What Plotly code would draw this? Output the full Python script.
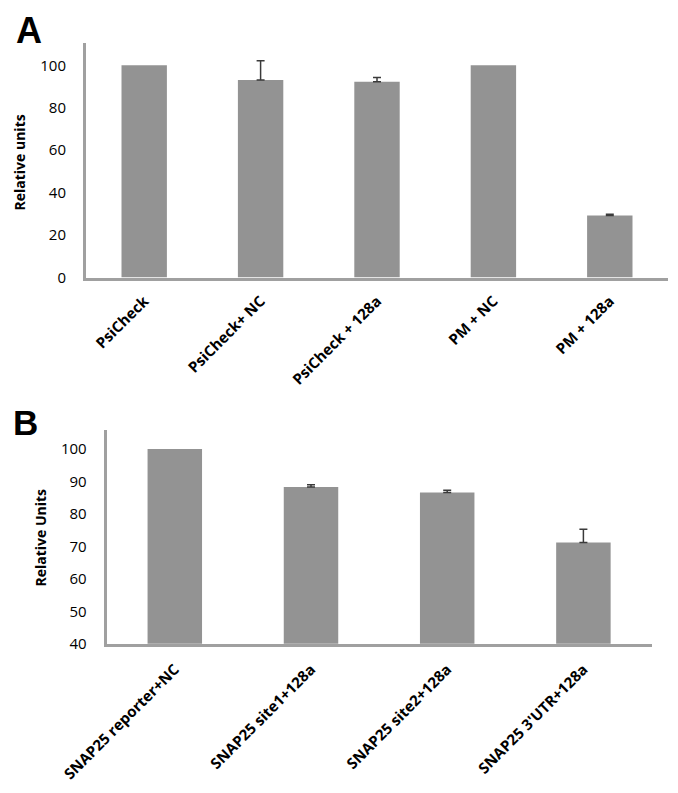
import plotly.graph_objects as go

W, H = 678, 793

# ---- data ----
cats_a = ["PsiCheck", "PsiCheck+ NC", "PsiCheck + 128a", "PM + NC", "PM + 128a"]
vals_a = [100, 93.1, 92.3, 100, 29.2]
err_a = [0, 9.0, 2.0, 0, 0.6]

cats_b = ["SNAP25 reporter+NC", "SNAP25 site1+128a", "SNAP25 site2+128a", "SNAP25 3'UTR+128a"]
vals_b = [100, 88.3, 86.6, 71.2]
err_b = [0, 0.7, 0.7, 4.1]

ticks_a = [0, 20, 40, 60, 80, 100]
ticks_b = [40, 50, 60, 70, 80, 90, 100]

BAR = "#939393"
LINE = "#a0a0a0"
ERR = "#3a3a3a"
FONT = "Open Sans"

def px_x(p):
    return p / W

def px_y(p):
    return 1 - p / H

fig = go.Figure()

def add_panel(cats, vals, errs, width, xa, ya):
    fig.add_trace(go.Bar(
        x=cats, y=vals, width=width, marker=dict(color=BAR, line=dict(width=0)),
        xaxis=xa, yaxis=ya, showlegend=False, hoverinfo="x+y",
    ))
    idx = [i for i, e in enumerate(errs) if e > 0]
    fig.add_trace(go.Scatter(
        x=[cats[i] for i in idx], y=[vals[i] for i in idx], mode="markers",
        marker=dict(size=1, opacity=0),
        error_y=dict(type="data", array=[errs[i] for i in idx], arrayminus=[0] * len(idx),
                     symmetric=False, color=ERR, thickness=1.5, width=4),
        xaxis=xa, yaxis=ya, showlegend=False, hoverinfo="skip",
    ))

add_panel(cats_a, vals_a, err_a, 0.39, "x", "y")
add_panel(cats_b, vals_b, err_b, 0.40, "x2", "y2")

# panel A geometry
a_x0, a_x1 = 86, 668
a_y0, a_ytop = 277.5, 42.7
a_ppu = (277.5 - 65.3) / 100
a_rmax = (a_y0 - a_ytop) / a_ppu

# panel B geometry
b_x0, b_x1 = 106.7, 651.5
b_y0, b_ytop = 643.8, 430
b_ppu = (643.8 - 449.0) / 60
b_rmax = 40 + (b_y0 - b_ytop) / b_ppu

xfont = dict(family=FONT, size=15, color="black", weight="bold")
yfont = dict(family=FONT, size=15, color="black")

common_x = dict(showline=True, linecolor=LINE, linewidth=3, showgrid=False, ticks="",
                tickangle=-45, tickfont=xfont, automargin=False, zeroline=False)
common_y = dict(showline=True, linecolor=LINE, linewidth=3, showgrid=False, zeroline=False,
                ticks="", tickfont=yfont, automargin=False, ticklabelstandoff=14)

fig.update_layout(
    width=W, height=H, autosize=False,
    margin=dict(l=0, r=0, t=0, b=0, pad=0),
    paper_bgcolor="white", plot_bgcolor="white",
    xaxis=dict(domain=[px_x(a_x0), px_x(a_x1)], anchor="y", ticklabelstandoff=6, **common_x),
    yaxis=dict(domain=[px_y(a_y0), px_y(a_ytop)], anchor="x", range=[0, a_rmax],
               tickvals=ticks_a, **common_y),
    xaxis2=dict(domain=[px_x(b_x0), px_x(b_x1)], anchor="y2", ticklabelstandoff=8, **common_x),
    yaxis2=dict(domain=[px_y(b_y0), px_y(b_ytop)], anchor="x2", range=[40, b_rmax],
                tickvals=ticks_b, **common_y),
)

annots = [
    dict(text="A", x=px_x(14), y=px_y(8), xanchor="left", yanchor="top",
         font=dict(family="Liberation Sans", size=36, color="black", weight="bold")),
    dict(text="B", x=px_x(11), y=px_y(401), xanchor="left", yanchor="top",
         font=dict(family="Liberation Sans", size=35, color="black", weight="bold")),
    dict(text="Relative units", x=px_x(18.5), y=px_y(163), textangle=-90,
         xanchor="center", yanchor="middle",
         font=dict(family=FONT, size=14, color="black", weight="bold")),
    dict(text="Relative Units", x=px_x(39.5), y=px_y(538), textangle=-90,
         xanchor="center", yanchor="middle",
         font=dict(family=FONT, size=14, color="black", weight="bold")),
]
for a in annots:
    a.update(xref="paper", yref="paper", showarrow=False)
fig.update_layout(annotations=annots)

fig.write_html("out.html", config={"displayModeBar": False},
               post_script="document.body.style.margin='0';document.body.style.overflow='hidden';")
